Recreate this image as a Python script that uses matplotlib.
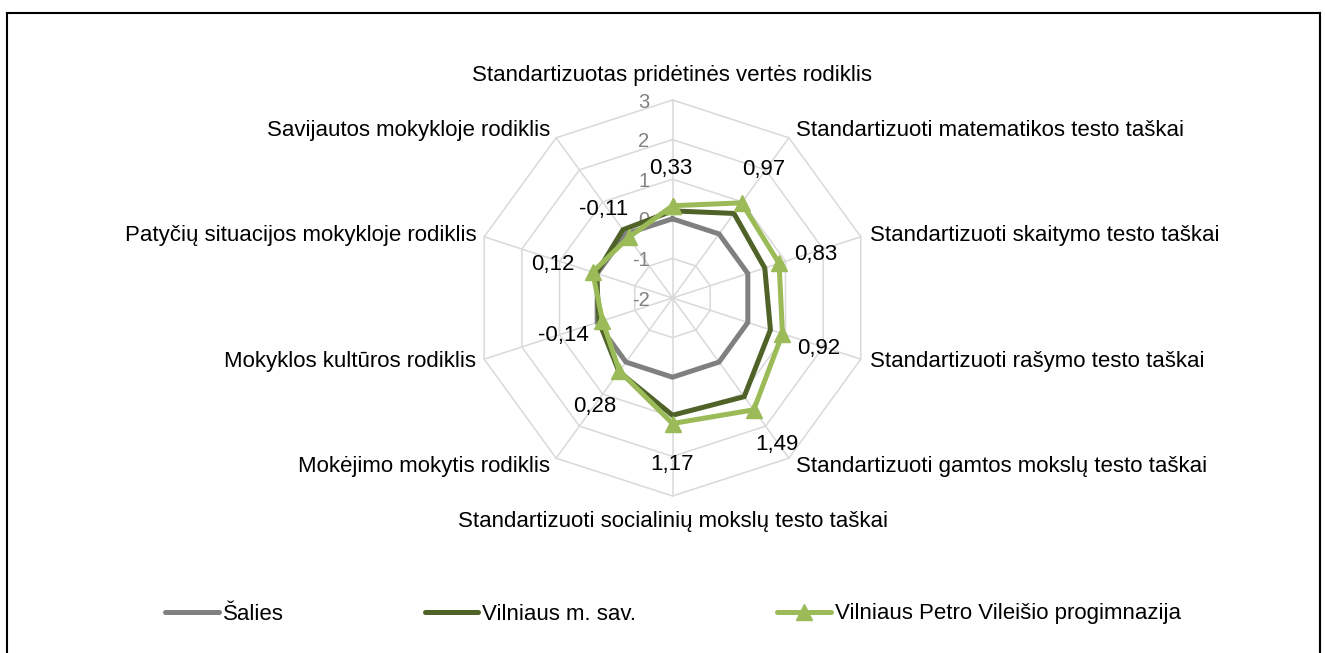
import numpy as np
import matplotlib
matplotlib.use("Agg")
import matplotlib.pyplot as plt
from matplotlib.lines import Line2D

plt.rcParams['font.family'] = ['Liberation Sans', 'DejaVu Sans']

# ---------------- data ----------------
categories = [
    "Standartizuotas pridėtinės vertės rodiklis",
    "Standartizuoti matematikos testo taškai",
    "Standartizuoti skaitymo testo taškai",
    "Standartizuoti rašymo testo taškai",
    "Standartizuoti gamtos mokslų testo taškai",
    "Standartizuoti socialinių mokslų testo taškai",
    "Mokėjimo mokytis rodiklis",
    "Mokyklos kultūros rodiklis",
    "Patyčių situacijos mokykloje rodiklis",
    "Savijautos mokykloje rodiklis",
]
salies = [0, 0, 0, 0, 0, 0, 0, 0, 0, 0]
vilniaus_sav = [0.20, 0.64, 0.45, 0.60, 1.08, 0.96, 0.30, -0.05, 0.02, 0.13]
progimnazija = [0.33, 0.97, 0.83, 0.92, 1.49, 1.17, 0.28, -0.14, 0.12, -0.11]
series_names = ["Šalies", "Vilniaus m. sav.", "Vilniaus Petro Vileišio progimnazija"]
tick_values = [3, 2, 1, 0, -1, -2]
r_min, r_max = -2, 3

# ---------------- style / layout ----------------
W, H = 1325, 653
C_GRAY = "#808080"
C_DARK = "#4f6228"
C_LIGHT = "#9bbb59"
C_GRID = "#d9d9d9"
LW = 3.6
FS = 16
FS_TICK = 14.5

# label offsets (pixels) for data labels of the highlighted series
label_offsets = [(-2, 37), (22, 33), (37, 9), (36, -15), (23, -35),
                 (0, -41), (-25, -35), (-39, -15), (-40, 8), (-25, 28)]
# category label offsets (pixels) and alignment
cat_offsets = [(0, 24), (7, 7), (9, 1), (9, -2), (7, -8),
               (0, -25), (-6, -8), (-8, -2), (-8, 1), (-6, 7)]
cat_ha = ['center', 'left', 'left', 'left', 'left',
          'center', 'right', 'right', 'right', 'right']

fig = plt.figure(figsize=(W / 100, H / 100), dpi=100)
cx, cy, rad = 672.5, 298, 198
ax = fig.add_axes([(cx - rad) / W, (H - cy - rad) / H, 2 * rad / W, 2 * rad / H],
                  projection='polar')
ax.set_theta_zero_location('N')
ax.set_theta_direction(-1)
ax.set_ylim(r_min, r_max)
ax.grid(False)
ax.spines['polar'].set_visible(False)
ax.set_xticks([])
ax.set_yticks([])
ax.patch.set_alpha(0)

n = len(categories)
angles = np.arange(n) * 2 * np.pi / n
closed = np.concatenate([angles, angles[:1]])

# decagon grid
for lvl in tick_values[:-1]:
    ax.plot(closed, [lvl] * (n + 1), color=C_GRID, lw=1.1, clip_on=False, zorder=1)
for a in angles:
    ax.plot([a, a], [r_min, r_max], color=C_GRID, lw=1.1, clip_on=False, zorder=1)

# tick labels
for t in tick_values:
    ax.annotate(str(t), xy=(0, t), xytext=(-23, -2),
                textcoords='offset pixels', ha='right', va='center',
                color=C_GRAY, fontsize=FS_TICK, zorder=2)

# series
def closed_vals(v):
    return list(v) + [v[0]]

ax.plot(closed, closed_vals(salies), color=C_GRAY, lw=LW, clip_on=False, zorder=3,
        solid_joinstyle='miter')
ax.plot(closed, closed_vals(vilniaus_sav), color=C_DARK, lw=LW, clip_on=False, zorder=4,
        solid_joinstyle='miter')
ax.plot(closed, closed_vals(progimnazija), color=C_LIGHT, lw=LW, clip_on=False, zorder=5,
        marker='^', ms=12, solid_joinstyle='miter')

# data labels
for a, v, off in zip(angles, progimnazija, label_offsets):
    ax.annotate(f"{v:.2f}".replace('.', ','), xy=(a, v), xytext=off,
                textcoords='offset pixels', ha='center', va='center',
                fontsize=FS, color='black', zorder=6)

# category labels
for a, cat, off, ha in zip(angles, categories, cat_offsets, cat_ha):
    ax.annotate(cat, xy=(a, r_max), xytext=off, textcoords='offset pixels',
                ha=ha, va='center', fontsize=FS, color='black', annotation_clip=False)

# legend
handles = [
    Line2D([], [], color=C_GRAY, lw=LW, solid_capstyle='round'),
    Line2D([], [], color=C_DARK, lw=LW, solid_capstyle='round'),
    Line2D([], [], color=C_LIGHT, lw=LW, marker='^', ms=12, solid_capstyle='round'),
]
fig.legend(handles, series_names, loc='center', bbox_to_anchor=(673 / W, 1 - 614 / H),
           ncol=3, frameon=False, fontsize=FS, handlelength=2.4, handletextpad=0.18,
           columnspacing=6.35, numpoints=1)

# outer frame
fx0, fx1, fy1 = 7.5 / W, 1320 / W, 1 - 12.5 / H
for xs, ys in [([fx0, fx0], [0, fy1]), ([fx0, fx1], [fy1, fy1]), ([fx1, fx1], [fy1, 0])]:
    fig.add_artist(Line2D(xs, ys, color='black', lw=1.5, transform=fig.transFigure))

fig.savefig("out.png", dpi=100)
